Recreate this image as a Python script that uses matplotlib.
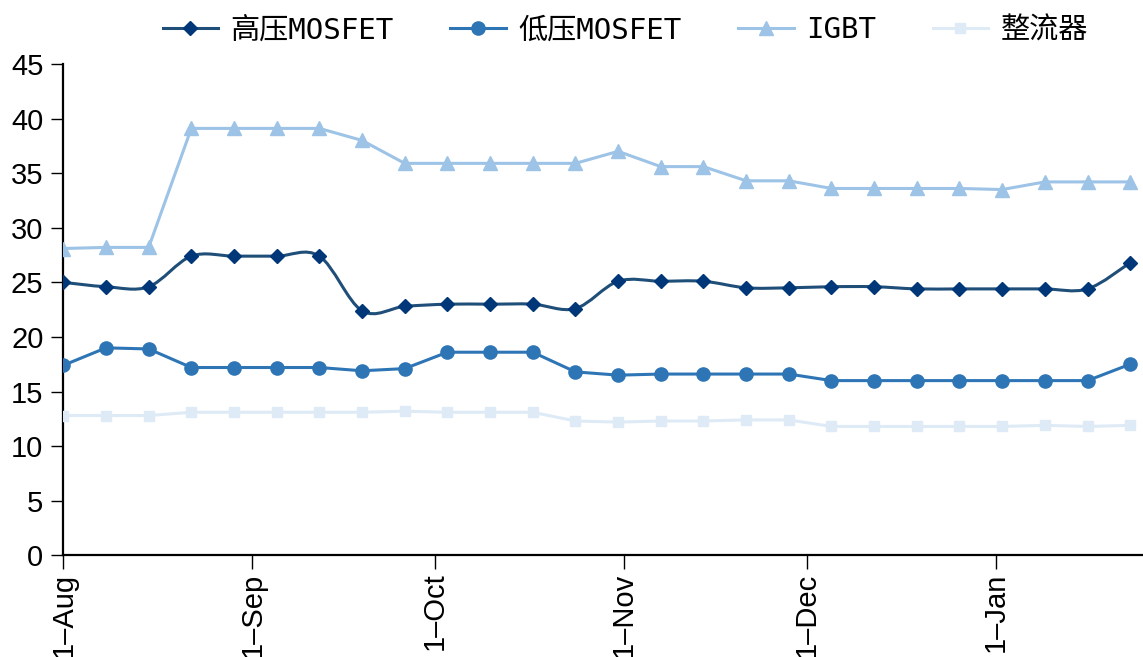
import numpy as np
import pandas as pd
import matplotlib
matplotlib.use("Agg")
import matplotlib.pyplot as plt
import matplotlib.dates as mdates
from matplotlib.path import Path
from matplotlib.patches import PathPatch
from matplotlib.lines import Line2D
from matplotlib.font_manager import FontProperties

plt.rcParams['font.family'] = ['Liberation Sans', 'Noto Sans CJK SC', 'DejaVu Sans']

# 数据：每周价格
dates = pd.date_range('2022-08-01', periods=26, freq='7D')
hv_mosfet = [25.0, 24.6, 24.6, 27.4, 27.4, 27.4, 27.4, 22.4, 22.8, 23.0, 23.0, 23.0, 22.6,
             25.1, 25.1, 25.1, 24.5, 24.5, 24.6, 24.6, 24.4, 24.4, 24.4, 24.4, 24.4, 26.8]
lv_mosfet = [17.4, 19.0, 18.9, 17.2, 17.2, 17.2, 17.2, 16.9, 17.1, 18.6, 18.6, 18.6, 16.8,
             16.5, 16.6, 16.6, 16.6, 16.6, 16.0, 16.0, 16.0, 16.0, 16.0, 16.0, 16.0, 17.5]
igbt = [28.1, 28.2, 28.2, 39.1, 39.1, 39.1, 39.1, 38.0, 35.9, 35.9, 35.9, 35.9, 35.9,
        37.0, 35.6, 35.6, 34.3, 34.3, 33.6, 33.6, 33.6, 33.6, 33.5, 34.2, 34.2, 34.2]
rectifier = [12.8, 12.8, 12.8, 13.1, 13.1, 13.1, 13.1, 13.1, 13.2, 13.1, 13.1, 13.1, 12.3,
             12.2, 12.3, 12.3, 12.4, 12.4, 11.8, 11.8, 11.8, 11.8, 11.8, 11.9, 11.8, 11.9]
labels = ['高压MOSFET', '低压MOSFET', 'IGBT', '整流器']


# 平滑曲线（类似 Excel 的平滑线）
def smooth_path(x, y):
    pts = np.column_stack([x, y])
    n = len(pts)
    verts = [pts[0]]
    codes = [Path.MOVETO]
    for i in range(n - 1):
        p0 = pts[i - 1] if i > 0 else pts[i]
        p1 = pts[i]
        p2 = pts[i + 1]
        p3 = pts[i + 2] if i + 2 < n else pts[i + 1]
        verts += [p1 + (p2 - p0) / 6, p2 - (p3 - p1) / 6, p2]
        codes += [Path.CURVE4] * 3
    return Path(verts, codes)


fig = plt.figure(figsize=(11.43, 6.57), dpi=100)
ax = fig.add_axes([0.0554, 0.1548, 0.9446, 0.7478])

xs = mdates.date2num(dates)

# 高压MOSFET（平滑线）
ax.add_patch(PathPatch(smooth_path(xs, hv_mosfet), fill=False,
                       edgecolor='#1F4E79', lw=2.2, zorder=2))
ax.plot(xs, hv_mosfet, ls='none', marker='D', ms=7, color='#003778', zorder=3)

ax.plot(xs, lv_mosfet, color='#2E75B6', lw=2.2, marker='o', ms=9.5, zorder=3)
ax.plot(xs, igbt, color='#9DC3E6', lw=2.2, marker='^', ms=10, zorder=3)
ax.plot(xs, rectifier, color='#DEEBF7', lw=2.2, marker='s', ms=7.5, zorder=3)

ax.set_ylim(0, 45)
ax.set_yticks(range(0, 46, 5))
x0 = mdates.date2num(pd.Timestamp('2022-08-01'))
ax.set_xlim(x0, x0 + 177.1)
ax.xaxis.set_major_locator(mdates.MonthLocator(bymonthday=1))
ax.xaxis.set_major_formatter(
    plt.FuncFormatter(lambda v, p: f"{mdates.num2date(v).day}–{mdates.num2date(v).strftime('%b')}"))

for s in ['top', 'right']:
    ax.spines[s].set_visible(False)
for s in ['left', 'bottom']:
    ax.spines[s].set_linewidth(1.6)
    ax.spines[s].set_color('black')

ax.tick_params(axis='y', direction='out', length=8.8, width=1, labelsize=21, pad=5.5)
ax.tick_params(axis='x', direction='out', length=10, width=1, labelsize=21, pad=2.5,
               labelrotation=90)

handles = [
    Line2D([], [], color='#1F4E79', lw=2.2, marker='D', ms=7, mfc='#003778', mec='#003778'),
    Line2D([], [], color='#2E75B6', lw=2.2, marker='o', ms=9.5),
    Line2D([], [], color='#9DC3E6', lw=2.2, marker='^', ms=10),
    Line2D([], [], color='#DEEBF7', lw=2.2, marker='s', ms=7.5),
]
fig.legend(handles, labels, loc='upper center', bbox_to_anchor=(0.547, 1.015), ncol=4,
           frameon=False,
           prop=FontProperties(family=['DejaVu Sans Mono', 'Noto Sans CJK SC'], size=21),
           handlelength=1.9, handletextpad=0.42, columnspacing=1.95)

fig.savefig('out.png', dpi=100)
